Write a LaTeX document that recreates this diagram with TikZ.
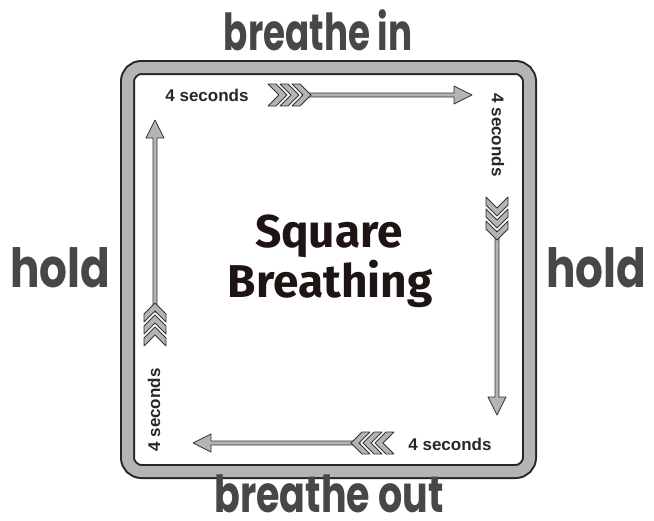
\documentclass[tikz,border=0pt]{standalone}
\usepackage{fontspec}
\setmainfont{Liberation Sans}
\newfontfamily\phaseinfont{Poppins}[FakeStretch=0.70]
\newfontfamily\phaseholdfont{Poppins}[FakeStretch=0.81]
\newfontfamily\phaseoutfont{Poppins}[FakeStretch=0.745]
\newfontfamily\titlefont{Fira Sans}
\usetikzlibrary{positioning}

\definecolor{arrowgray}{HTML}{B4B4B4}
\definecolor{titleink}{HTML}{1E1414}
\tikzset{
  arrowfill/.style={fill=arrowgray,draw=black!80,line width=0.8pt,line join=round},
  seconds/.style={font=\fontsize{17}{17}\selectfont\bfseries,text=black!85,inner sep=0pt},
  phase/.style={text=black!72,inner sep=0pt,text depth=0pt,anchor=base},
  titletext/.style={font=\titlefont\fontsize{46}{46}\selectfont\bfseries,text=titleink,inner sep=0pt,anchor=base},
  pics/breatharrow/.style={code={
    \filldraw[arrowfill] (34,-2) -- (#1-18,-2) -- (#1-18,-9) -- (#1,0)
      -- (#1-18,9) -- (#1-18,2) -- (34,2) -- cycle;
    \foreach \k in {0,12,24}{
      \filldraw[arrowfill] (\k,-11) -- ++(8,0) -- ++(11,11) -- ++(-11,11)
        -- ++(-8,0) -- ++(11,-11) -- cycle;}
  }}
}

\begin{document}
\begin{tikzpicture}[x=1pt,y=-1pt]
  \useasboundingbox (0,0) rectangle (654,520);
  % frame
  \draw[line width=15pt,black!85,rounded corners=14pt] (127.5,67.5) rectangle (529.5,471.5);
  \draw[line width=11pt,arrowgray,rounded corners=14pt] (127.5,67.5) rectangle (529.5,471.5);

  % arrows, one per side
  \coordinate (intop) at (268,95);
  \coordinate (holdright) at (497,197);
  \coordinate (outbottom) at (394,443);
  \coordinate (holdleft) at (155,346);
  \pic at (intop) {breatharrow=204};
  \pic[rotate=-90] at (holdright) {breatharrow=218};
  \pic[rotate=180] at (outbottom) {breatharrow=201};
  \pic[rotate=90] at (holdleft) {breatharrow=226};

  \node[seconds] (sectop) at (207,95) {4 seconds};
  \node[seconds,rotate=-90] (secright) at (498,135) {4 seconds};
  \node[seconds] (secbottom) at (450,444) {4 seconds};
  \node[seconds,rotate=90] (secleft) at (154,410) {4 seconds};

  % phase labels
  \node[phase,font=\phaseinfont\fontsize{51}{51}\selectfont\bfseries] (breathein) at (318,50) {breathe in};
  \node[phase,font=\phaseholdfont\fontsize{54}{54}\selectfont\bfseries] (holdl) at (60,287) {hold};
  \node[phase,font=\phaseholdfont\fontsize{54}{54}\selectfont\bfseries] (holdr) at (596,287) {hold};
  \node[phase,font=\phaseoutfont\fontsize{51}{51}\selectfont\bfseries] (breatheout) at (329,512) {breathe out};

  \node[titletext] (square) at (329,247) {Square};
  \node[titletext] (breathing) at (330,297) {Breathing};
\end{tikzpicture}
\end{document}
